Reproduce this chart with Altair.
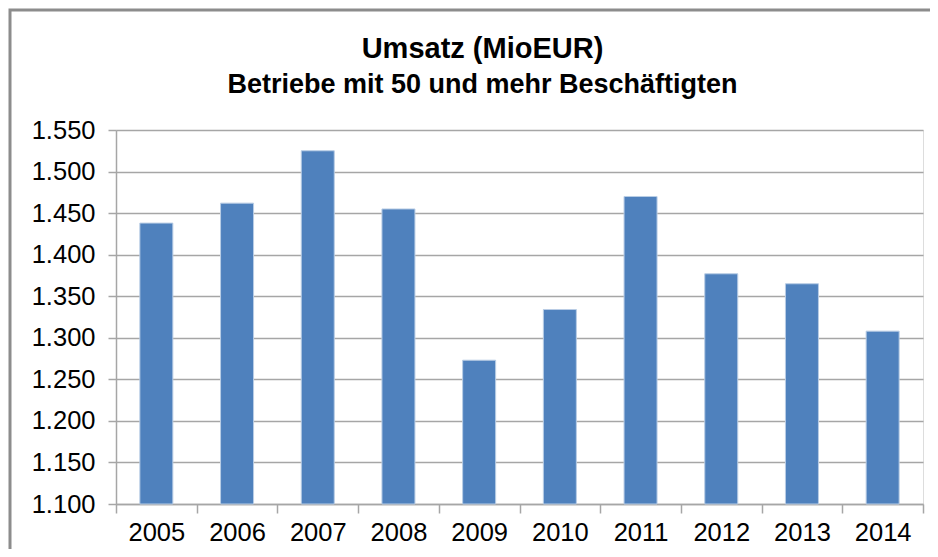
import altair as alt
import pandas as pd

years = ["2005", "2006", "2007", "2008", "2009", "2010", "2011", "2012", "2013", "2014"]
umsatz = [1438, 1462, 1525, 1455, 1273, 1334, 1470, 1377, 1365, 1308]
y_ticks = [1100, 1150, 1200, 1250, 1300, 1350, 1400, 1450, 1500, 1550]

df = pd.DataFrame({"Jahr": years, "Umsatz": umsatz})

FONT = "Liberation Sans"
GRID = "#a6a6a6"

bars = alt.Chart(df).mark_bar(
    size=33, color="#4F81BD", stroke="#b9cde5", strokeWidth=1
).encode(
    x=alt.X("Jahr:O", sort=years, title=None,
            scale=alt.Scale(paddingInner=0, paddingOuter=0),
            axis=alt.Axis(labelAngle=0, tickBand="extent", grid=False,
                          labelFont=FONT, labelFontSize=25.5, labelColor="black",
                          labelPadding=7, tickSize=9, tickColor=GRID, tickWidth=1.5,
                          domainColor=GRID, domainWidth=1.5)),
    y=alt.Y("Umsatz:Q", title=None,
            scale=alt.Scale(domain=[1100, 1550], zero=False, nice=False),
            axis=alt.Axis(values=y_ticks,
                          labelExpr="replace(format(datum.value, ','), ',', '.')",
                          labelFont=FONT, labelFontSize=25.5, labelColor="black",
                          labelPadding=13, tickSize=8, tickColor=GRID, tickWidth=1.5,
                          gridColor=GRID, gridWidth=1.5, gridOpacity=1,
                          domainColor=GRID, domainWidth=1.5)),
    y2=alt.datum(1100),
)

frame = alt.Chart(pd.DataFrame({"k": [0]})).mark_rect(
    fill=None, stroke="#8c8c8c", strokeWidth=3
).encode(
    x=alt.value(-106), x2=alt.value(900), y=alt.value(-120), y2=alt.value(600)
)

chart = alt.layer(frame, bars).properties(
    width=807, height=374,
    padding={"left": 108, "top": 122, "right": 7, "bottom": 45},
    autosize=alt.AutoSizeParams(type="none"),
    title=alt.TitleParams(
        text="Umsatz (MioEUR)",
        subtitle="Betriebe mit 50 und mehr Beschäftigten",
        anchor="middle", frame="group", dx=-37, offset=-89,
        font=FONT, fontSize=29, fontWeight="bold", color="black",
        subtitleFont=FONT, subtitleFontSize=27, subtitleFontWeight="bold",
        subtitleColor="black", subtitlePadding=8,
    ),
).configure_view(stroke=None).configure(background="white")

chart.save("out.html", embed_options={"renderer": "svg", "actions": False})
